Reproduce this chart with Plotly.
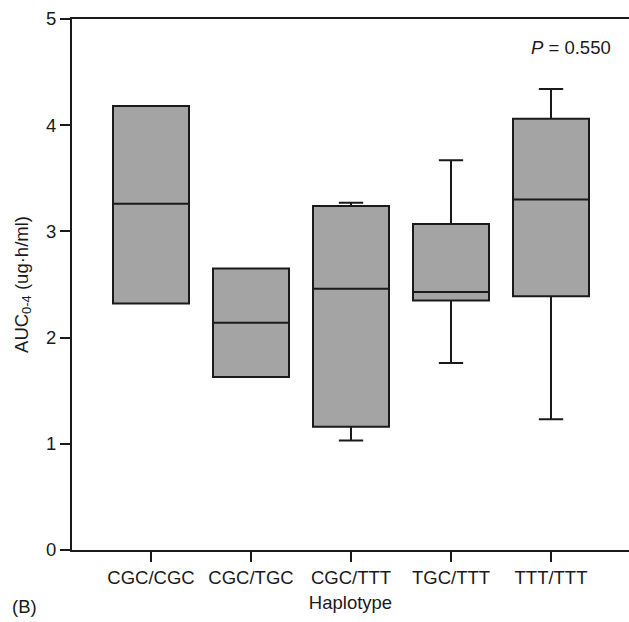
import plotly.graph_objects as go

categories = ["CGC/CGC", "CGC/TGC", "CGC/TTT", "TGC/TTT", "TTT/TTT"]
lower_whisker = [2.32, 1.63, 1.03, 1.76, 1.23]
q1 = [2.32, 1.63, 1.16, 2.35, 2.39]
median = [3.26, 2.14, 2.46, 2.43, 3.30]
q3 = [4.18, 2.65, 3.24, 3.07, 4.06]
upper_whisker = [4.18, 2.65, 3.27, 3.67, 4.34]

FONT = "Liberation Sans, Arial, sans-serif"
FS = 18.5
INK = "#1a1a1a"

fig = go.Figure()
fig.add_trace(go.Box(
    x=categories,
    q1=q1, median=median, q3=q3,
    lowerfence=lower_whisker, upperfence=upper_whisker,
    fillcolor="#a4a4a4",
    line=dict(color=INK, width=2),
    width=0.76,
    whiskerwidth=0.32,
    boxpoints=False,
    showlegend=False,
    hoverinfo="skip",
))

L, T, B = 72, 19, 72
W, H = 629, 622
pw, ph = W - L, H - T - B


def px_to_paper(px, py):
    return (px - L) / pw, ((H - py) - B) / ph


p_x, p_y = px_to_paper(613, 47)
b_x, b_y = px_to_paper(10, 606)

fig.update_layout(
    width=W, height=H,
    margin=dict(l=L, r=0, t=T, b=B),
    paper_bgcolor="white", plot_bgcolor="white",
    font=dict(family=FONT, size=FS, color=INK),
    xaxis=dict(
        range=[-0.79, 4.78],
        showline=True, linecolor=INK, linewidth=2, mirror=True,
        ticks="outside", ticklen=10, tickwidth=2, tickcolor=INK,
        tickfont=dict(size=FS), showgrid=False, zeroline=False,
        title=dict(text="Haplotype", font=dict(size=FS), standoff=9),
    ),
    yaxis=dict(
        range=[0, 5], tickvals=[0, 1, 2, 3, 4, 5],
        showline=True, linecolor=INK, linewidth=2,
        ticks="outside", ticklen=10, tickwidth=2, tickcolor=INK,
        tickfont=dict(size=FS), showgrid=False, zeroline=False,
        title=dict(text="AUC<sub>0-4</sub> (ug·h/ml)", font=dict(size=FS), standoff=13),
    ),
    annotations=[
        dict(text="<i>P</i> = 0.550", x=p_x, y=p_y, xref="paper", yref="paper",
             xanchor="right", yanchor="middle", showarrow=False, font=dict(size=FS)),
        dict(text="(B)", x=b_x, y=b_y, xref="paper", yref="paper",
             xanchor="left", yanchor="middle", showarrow=False, font=dict(size=FS)),
    ],
)

fig.write_html("out.html")
